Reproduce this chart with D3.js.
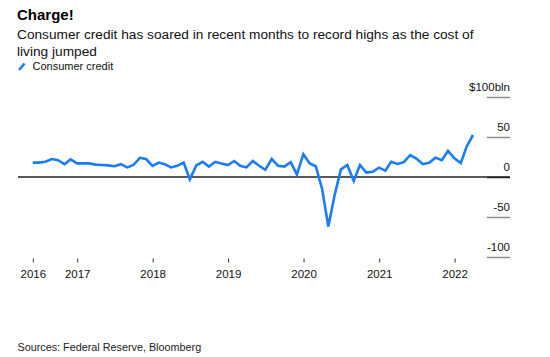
<!DOCTYPE html>
<html>
<head>
<meta charset="utf-8">
<script src="https://cdn.jsdelivr.net/npm/d3@7"></script>
<style>
  html, body { margin: 0; padding: 0; background: #fff; }
  svg { display: block; font-family: "Liberation Sans", Arial, Helvetica, sans-serif; }
</style>
</head>
<body>
<svg id="chart" width="550" height="357"></svg>
<script>
// ---- data ----
const startMonth = "2016-05";   // first monthly observation
const values = [
  18, 18, 19, 22.5, 21, 16, 22, 17, 17, 17,
  15.5, 15, 14.5, 13.5, 16, 12, 15, 24, 22.5, 14,
  18, 16, 12, 14, 18, -3, 14.5, 19, 13, 19,
  17, 15, 20, 14, 12, 20, 14, 9, 22.5, 14,
  13, 18.5, 3, 28.5, 17, 13.5, -15, -62, -22, 9.6,
  15, -5, 15, 5.5, 6.5, 11.7, 8, 19, 16.3, 18.5,
  27.3, 23, 16, 17.9, 24.2, 21, 32.5, 23.3, 17.3, 37.9,
  52.5
];
const xTickYears = [2016, 2017, 2018, 2019, 2020, 2021, 2022];
const yTicks = [-100, -50, 0, 50, 100];
const yUnitLabel = "$100bln";
const title = "Charge!";
const subtitleLines = ["Consumer credit has soared in recent months to record highs as the cost of", "living jumped"];
const seriesName = "Consumer credit";
const source = "Sources: Federal Reserve, Bloomberg";

// monthly dates plotted at month end
const [sy, sm] = startMonth.split("-").map(Number);
const dates = values.map((v, i) => new Date(sy, sm - 1 + i + 1, 0));
const data = values.map((v, i) => ({ date: dates[i], value: v }));

const svg = d3.select("#chart");
const blue = "#1a7cf8";

const x = d3.scaleTime().domain([dates[0], dates[dates.length - 1]]).range([32.8, 473]);
const y = d3.scaleLinear().domain([-100, 100]).range([257, 97]);

// title, subtitle, legend
svg.append("text").attr("x", 17).attr("y", 20).attr("font-size", 15).attr("font-weight", "bold").attr("fill", "#000").text(title);
subtitleLines.forEach((t, i) => {
  svg.append("text").attr("x", 17).attr("y", 39 + i * 16.5).attr("font-size", 13.7).attr("fill", "#111").text(t);
});
svg.append("line").attr("x1", 19).attr("y1", 70).attr("x2", 24.5).attr("y2", 63.5)
  .attr("stroke", blue).attr("stroke-width", 2.5).attr("stroke-linecap", "butt");
svg.append("text").attr("x", 32.5).attr("y", 69.5).attr("font-size", 11).attr("fill", "#111").text(seriesName);

// y axis on the right
const yAxis = d3.axisLeft(y).tickValues(yTicks).tickSize(23)
  .tickFormat(d => d === 100 ? yUnitLabel : String(d));
const gy = svg.append("g").attr("transform", "translate(510,0)").call(yAxis);
gy.select(".domain").remove();
gy.selectAll(".tick line").attr("stroke", d => d === 0 ? "#222" : "#8c8c8c").attr("stroke-width", 1.5);
gy.selectAll(".tick text").attr("x", 0).attr("dy", -6.5).attr("text-anchor", "end")
  .attr("font-size", 11.5).attr("fill", "#111").attr("font-family", "Liberation Sans, Arial, sans-serif");

// zero line
svg.append("line").attr("x1", 18).attr("x2", 510).attr("y1", y(0)).attr("y2", y(0))
  .attr("stroke", "#222").attr("stroke-width", 1.3);

// x axis
const tickDates = xTickYears.map((yr, i) => i === 0 ? dates[0] : new Date(yr, 0, 1));
const xAxis = d3.axisBottom(x).tickValues(tickDates).tickSize(4)
  .tickFormat((d, i) => String(xTickYears[i]));
const gx = svg.append("g").attr("transform", "translate(0,258.5)").call(xAxis);
gx.select(".domain").remove();
gx.selectAll(".tick line").attr("stroke", "#333").attr("stroke-width", 1);
gx.selectAll(".tick text").attr("y", 19).attr("dy", 0).attr("font-size", 11.5).attr("fill", "#111")
  .attr("font-family", "Liberation Sans, Arial, sans-serif");

// line
const line = d3.line().x(d => x(d.date)).y(d => y(d.value));
svg.append("path").datum(data).attr("d", line).attr("fill", "none")
  .attr("stroke", blue).attr("stroke-width", 2.6).attr("stroke-linejoin", "miter").attr("stroke-linecap", "butt");

// source
svg.append("text").attr("x", 17.5).attr("y", 350.5).attr("font-size", 10.8).attr("fill", "#222").text(source);
</script>
</body>
</html>
